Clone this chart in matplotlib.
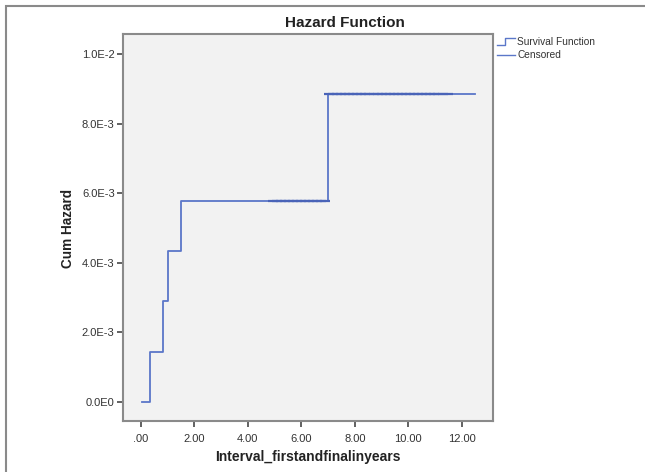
import matplotlib
matplotlib.use("Agg")
import matplotlib.pyplot as plt
from matplotlib.lines import Line2D
from matplotlib.patches import Rectangle

plt.rcParams['font.family'] = ['Liberation Sans', 'DejaVu Sans']

# Step function data (time, cumulative hazard)
step_times = [0.02, 0.34, 0.82, 1.00, 1.50, 7.00, 12.50]
step_hazard = [0.0, 0.001445, 0.00289, 0.00433, 0.00578, 0.00885, 0.00885]

# Censored observations
censored_times_low = [4.95, 5.1, 5.25, 5.4, 5.55, 5.7, 5.85, 6.0, 6.15, 6.3, 6.45, 6.6, 6.75, 6.9]
censored_haz_low = [0.00578] * len(censored_times_low)
censored_times_high = [7.05, 7.2, 7.35, 7.5, 7.65, 7.8, 7.95, 8.1, 8.25, 8.4, 8.55, 8.7,
                       8.85, 9.0, 9.15, 9.3, 9.45, 9.6, 9.75, 9.9, 10.05, 10.2, 10.35,
                       10.5, 10.65, 10.8, 10.95, 11.1, 11.3, 11.5]
censored_haz_high = [0.00885] * len(censored_times_high)

xticks = [0, 2, 4, 6, 8, 10, 12]
xtick_labels = [".00", "2.00", "4.00", "6.00", "8.00", "10.00", "12.00"]
yticks = [0.0, 0.002, 0.004, 0.006, 0.008, 0.010]
ytick_labels = ["0.0E0", "2.0E-3", "4.0E-3", "6.0E-3", "8.0E-3", "1.0E-2"]

W, H = 645, 472
fig = plt.figure(figsize=(W / 100, H / 100), dpi=100)
fig.patch.set_facecolor("white")

# outer frame
fig.add_artist(Rectangle((6 / W, -0.05), 1.2, 1.05 - 6 / H, transform=fig.transFigure,
                         fill=False, edgecolor="#8a8a8a", linewidth=1.5))

left, right, top, bottom = 123, 493, 34, 421
ax = fig.add_axes([left / W, 1 - bottom / H, (right - left) / W, (bottom - top) / H])
ax.set_facecolor("#f2f2f2")

line_color = "#5b77c9"
ax.step(step_times, step_hazard, where="post", color=line_color, linewidth=1.3)
ax.plot(censored_times_low, censored_haz_low, linestyle="none", marker="_",
        markersize=7, markeredgewidth=1.6, color="#4a64b8")
ax.plot(censored_times_high, censored_haz_high, linestyle="none", marker="_",
        markersize=7, markeredgewidth=1.6, color="#4a64b8")

x0px = 141
xscale = (461.7 - 141) / 12.0
xmin = -(x0px - left) / xscale
xmax = (right - x0px) / xscale
ax.set_xlim(xmin, xmax)
y0px = 402
yscale = (402 - 54) / 0.010
ymin = -(bottom - y0px) / yscale
ymax = (y0px - top) / yscale
ax.set_ylim(ymin, ymax)

ax.set_xticks(xticks)
ax.set_xticklabels(xtick_labels)
ax.set_yticks(yticks)
ax.set_yticklabels(ytick_labels)
ax.tick_params(axis="both", direction="out", length=4, width=1.3, color="#555555",
               labelsize=8, labelcolor="#333333", pad=2)
ax.tick_params(axis="x", pad=5)
for s in ax.spines.values():
    s.set_color("#8a8a8a")
    s.set_linewidth(1.5)

fig.text(345 / W, 1 - 23 / H, "Hazard Function", ha="center", va="center",
         fontsize=11, fontweight="bold", color="#222222")
fig.text(308 / W, 1 - 457 / H, "Interval_firstandfinalinyears", ha="center", va="center",
         fontsize=10, fontweight="bold", color="#222222")
fig.text(68 / W, 1 - 228 / H, "Cum Hazard", ha="center", va="center", rotation=90,
         fontsize=9.8, fontweight="bold", color="#222222")

# legend
fig.text(517 / W, 1 - 42 / H, "Survival Function", ha="left", va="center",
         fontsize=7.3, color="#333333")
fig.text(517 / W, 1 - 55 / H, "Censored", ha="left", va="center",
         fontsize=7.3, color="#333333")
fig.add_artist(Line2D([497 / W, 505 / W, 505 / W, 515 / W],
                      [1 - 45 / H, 1 - 45 / H, 1 - 38 / H, 1 - 38 / H],
                      transform=fig.transFigure, color=line_color, linewidth=1.0))
fig.add_artist(Line2D([497 / W, 515 / W], [1 - 55 / H, 1 - 55 / H],
                      transform=fig.transFigure, color=line_color, linewidth=1.0))

fig.savefig("out.png", dpi=100)
